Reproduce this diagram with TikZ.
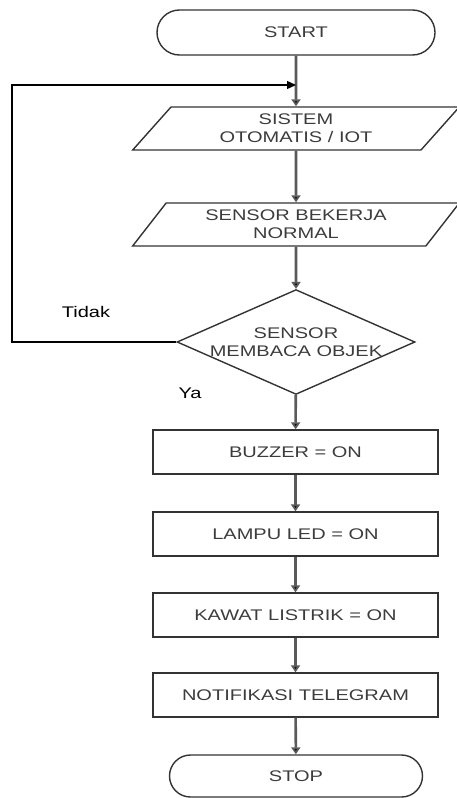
\documentclass[tikz,border=0pt]{standalone}
\usepackage{fontspec}
\setmainfont[FakeStretch=1.3]{Liberation Sans}
\usetikzlibrary{shapes.geometric,shapes.misc,arrows.meta}
\definecolor{txt}{HTML}{3C3C3C}
\definecolor{edge}{HTML}{333333}
\definecolor{shaft}{HTML}{5A5A5A}

\begin{document}
\begin{tikzpicture}[x=1pt, y=-1pt,
  every node/.style={font=\fontsize{15.4}{18}\selectfont, text=txt, align=center},
  term/.style={draw=edge, line width=1.4pt, rounded rectangle, inner sep=0pt},
  io/.style={draw=edge, line width=1.4pt, trapezium, trapezium left angle=51,
    trapezium right angle=129, trapezium stretches=true, inner sep=0pt,
    minimum width=327pt, minimum height=43pt},
  dec/.style={draw=edge, line width=1.4pt, diamond, inner sep=0pt, aspect=2.27,
    minimum width=227pt, minimum height=100pt},
  proc/.style={draw=edge, line width=1.4pt, inner sep=0pt,
    minimum width=285pt, minimum height=44pt},
  lbl/.style={text=black},
  arr/.style={draw=shaft, line width=2.6pt, -{Triangle[width=9pt,length=7pt,fill=black]}},
  >=latex]
  \useasboundingbox (0,0) rectangle (457,798);
  \node[term, minimum width=278pt, minimum height=45pt] (start) at (296,32.5) {START};
  \node[io] (sistem) at (296,128.5) {SISTEM\\OTOMATIS / IOT};
  \node[io] (normal) at (296,224.5) {SENSOR BEKERJA\\NORMAL};
  \node[dec] (baca) at (296,342) {SENSOR\\MEMBACA OBJEK};
  \node[proc] (buzzer) at (295.5,452) {BUZZER = ON};
  \node[proc] (lampu) at (295.5,534) {LAMPU LED = ON};
  \node[proc] (kawat) at (295.5,615) {KAWAT LISTRIK = ON};
  \node[proc] (notif) at (295.5,695) {NOTIFIKASI TELEGRAM};
  \node[term, minimum width=253pt, minimum height=42pt] (stop) at (296,776) {STOP};
  \node[lbl] (tidak) at (86,312) {Tidak};
  \node[lbl] (ya) at (190,393) {Ya};
  \coordinate (back) at (296,85);
  \coordinate (c1) at (12,342);
  \coordinate (c2) at (12,85);

  \draw[arr] (start) -- (sistem);
  \draw[arr] (sistem) -- (normal);
  \draw[arr] (normal) -- (baca);
  \draw[arr] (baca) -- (buzzer);
  \draw[arr] (buzzer) -- (lampu);
  \draw[arr] (lampu) -- (kawat);
  \draw[arr] (kawat) -- (notif);
  \draw[arr] (notif) -- (stop);
  % jalur Tidak kembali ke atas
  \draw[line width=1.2pt, -{Triangle[width=8pt,length=9pt]}] (baca.west) -- (c1) -- (c2) -- (back);
\end{tikzpicture}
\end{document}
